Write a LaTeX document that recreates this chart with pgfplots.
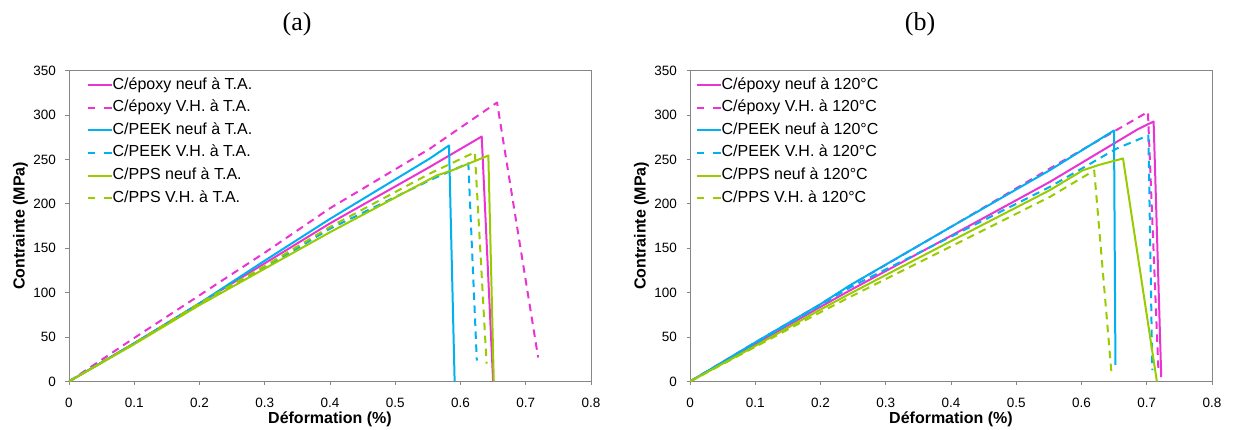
\documentclass[border=0pt]{standalone}
\usepackage{fontspec}
\setmainfont{Liberation Sans}
\newfontfamily\titlefont{Liberation Serif}
\usepackage{pgfplots}
\pgfplotsset{compat=1.18}
\definecolor{cmag}{RGB}{235,50,210}
\definecolor{ccyan}{RGB}{0,176,240}
\definecolor{cgreen}{RGB}{153,204,0}
\definecolor{cframe}{RGB}{134,134,134}
\pgfplotsset{
  mystyle/.style={
    scale only axis, width=522pt, height=311pt,
    xmin=0, xmax=0.8, ymin=0, ymax=350,
    xtick={0,0.1,0.2,0.3,0.4,0.5,0.6,0.7,0.8},
    xticklabels={0,0.1,0.2,0.3,0.4,0.5,0.6,0.7,0.8},
    ytick={0,50,100,150,200,250,300,350},
    yticklabels={0,50,100,150,200,250,300,350},
    tick align=outside, tick pos=left, major tick length=3.5pt,
    axis line style={cframe, line width=0.8pt},
    tick style={cframe, line width=0.8pt},
    ticklabel style={font=\fontsize{13.5}{13.5}\selectfont},
    xticklabel style={yshift=-10pt},
    yticklabel style={xshift=-6pt},
    xlabel={Déformation (\%)}, ylabel={Contrainte (MPa)},
    label style={font=\bfseries\fontsize{16}{16}\selectfont},
    xlabel style={at={(axis description cs:0.5,-0.1206)}, anchor=center},
    ylabel style={at={(axis description cs:-0.093,0.5)}, anchor=center},
    title style={font=\titlefont\fontsize{26}{26}\selectfont, anchor=center},
    legend style={draw=none, fill=none, inner sep=0pt, anchor=north west,
      font=\fontsize{16}{16}\selectfont, row sep=7.6pt, column sep=0pt,
      nodes={inner sep=0pt, text height=11.5pt, text depth=3.5pt}},
    legend cell align=left,
    legend image code/.code={\draw[#1] (0pt,0pt) -- (24pt,0pt);},
    every axis plot/.append style={line width=2pt, line join=round},
    dsh/.style={dash pattern=on 7.5pt off 5.5pt, legend image post style={dash pattern=on 7.3pt off 9.4pt}},
  }
}
\begin{document}
\begin{tikzpicture}
\path[use as bounding box] (0,0) rectangle (1233pt,430pt);
\begin{axis}[mystyle, at={(69pt,48.5pt)}, anchor=south west,
  title={(a)}, title style={at={(axis description cs:0.437,1.13)}},
  legend style={at={(axis description cs:0.0335,0.9775)}}]
\addplot[cmag] coordinates {(0,0)(0.1,43)(0.2,88)(0.3,133)(0.4,178)(0.553,241.5)(0.6325,275.7)(0.650,0)};
\addlegendentry{C/époxy neuf à T.A.}
\addplot[cmag,dsh] coordinates {(0,0)(0.1,49)(0.2,97)(0.3,145)(0.4,195)(0.553,262)(0.656,314)(0.719,27)};
\addlegendentry{C/époxy V.H. à T.A.}
\addplot[ccyan] coordinates {(0,0)(0.1,43)(0.2,88)(0.3,136)(0.4,183)(0.553,251)(0.5824,265.6)(0.591,0)};
\addlegendentry{C/PEEK neuf à T.A.}
\addplot[ccyan,dsh] coordinates {(0,0)(0.1,43)(0.2,87)(0.3,128)(0.4,172)(0.553,226.5)(0.612,245.7)(0.625,23.6)};
\addlegendentry{C/PEEK V.H. à T.A.}
\addplot[cgreen] coordinates {(0,0)(0.1,42)(0.2,86)(0.3,127)(0.4,168)(0.5635,231.8)(0.5865,237.4)(0.6427,254.3)(0.651,0)};
\addlegendentry{C/PPS neuf à T.A.}
\addplot[cgreen,dsh] coordinates {(0,0)(0.1,43)(0.2,88)(0.3,130)(0.4,174)(0.553,234)(0.622,258)(0.640,20)};
\addlegendentry{C/PPS V.H. à T.A.}
\end{axis}
\begin{axis}[mystyle, at={(690pt,48.5pt)}, anchor=south west,
  title={(b)}, title style={at={(axis description cs:0.4406,1.13)}},
  legend style={at={(axis description cs:0.0105,0.9775)}}]
\addplot[cmag] coordinates {(0,0)(0.1,42)(0.2,84)(0.2455,102.7)(0.4,164)(0.5514,224.6)(0.6865,284)(0.7105,292.6)(0.7222,5)};
\addlegendentry{C/époxy neuf à 120°C}
\addplot[cmag,dsh] coordinates {(0,0)(0.1,44)(0.2,87)(0.2455,108)(0.4,174)(0.5514,239.7)(0.7018,303.4)(0.718,10)};
\addlegendentry{C/époxy V.H. à 120°C}
\addplot[ccyan] coordinates {(0,0)(0.1,44)(0.2,87)(0.2455,108.4)(0.4,174)(0.5514,237.8)(0.6498,282.5)(0.652,18.8)};
\addlegendentry{C/PEEK neuf à 120°C}
\addplot[ccyan,dsh] coordinates {(0,0)(0.1,43)(0.2,86)(0.2455,106)(0.4,163)(0.5514,219)(0.6534,262)(0.7025,277)(0.7085,12.7)};
\addlegendentry{C/PEEK V.H. à 120°C}
\addplot[cgreen] coordinates {(0,0)(0.1,40)(0.2,81)(0.2455,99)(0.4,158)(0.5514,215.3)(0.602,237.7)(0.628,244)(0.6636,251)(0.7155,0)};
\addlegendentry{C/PPS neuf à 120°C}
\addplot[cgreen,dsh] coordinates {(0,0)(0.1,39)(0.2,78)(0.2455,95.2)(0.4,152)(0.5514,207.7)(0.6195,237.5)(0.6458,10.5)};
\addlegendentry{C/PPS V.H. à 120°C}
\end{axis}
\end{tikzpicture}
\end{document}
